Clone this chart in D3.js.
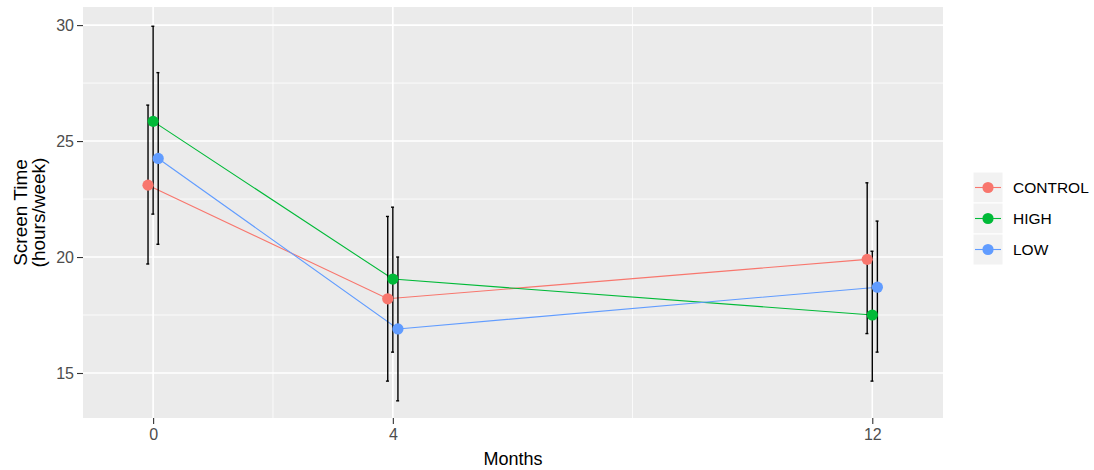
<!DOCTYPE html>
<html>
<head>
<meta charset="utf-8">
<script src="https://cdn.jsdelivr.net/npm/d3@7"></script>
<style>
  html, body { margin: 0; padding: 0; background: #fff; }
  svg { display: block; font-family: "Liberation Sans", Arial, sans-serif; }
</style>
</head>
<body>
<svg id="chart" width="1094" height="470"></svg>
<script>
// ---- data ----
const months = [0, 4, 12];
const groups = ["CONTROL", "HIGH", "LOW"];
const colors = ["#F8766D", "#00BA38", "#619CFF"];
const dodge = [-0.085, 0, 0.085];
const controlMean = [23.1, 18.2, 19.9];
const controlLow  = [19.7, 14.65, 16.7];
const controlHigh = [26.55, 21.75, 23.2];
const highMean = [25.85, 19.05, 17.5];
const highLow  = [21.85, 15.9, 14.65];
const highHigh = [29.95, 22.15, 20.25];
const lowMean = [24.25, 16.9, 18.7];
const lowLow  = [20.55, 13.8, 15.9];
const lowHigh = [27.95, 20.0, 21.55];
const yTicks = [15, 20, 25, 30];
const yMinor = [17.5, 22.5, 27.5];
const xTicks = [0, 4, 12];
const xMinor = [2, 8];

const series = [
  { name: groups[0], color: colors[0], off: dodge[0], mean: controlMean, lo: controlLow, hi: controlHigh },
  { name: groups[1], color: colors[1], off: dodge[1], mean: highMean, lo: highLow, hi: highHigh },
  { name: groups[2], color: colors[2], off: dodge[2], mean: lowMean, lo: lowLow, hi: lowHigh }
];

// ---- layout ----
const panel = { left: 83, right: 943, top: 7, bottom: 418 };
const svg = d3.select("#chart");

const x = d3.scaleLinear().domain([-1.17, 13.18]).range([panel.left, panel.right]);
const y = d3.scaleLinear().domain([13.06, 30.78]).range([panel.bottom, panel.top]);

// panel background
svg.append("rect")
  .attr("x", panel.left).attr("y", panel.top)
  .attr("width", panel.right - panel.left).attr("height", panel.bottom - panel.top)
  .attr("fill", "#EBEBEB");

const grid = svg.append("g");
// minor grid
grid.selectAll(".ymin").data(yMinor).enter().append("line")
  .attr("x1", panel.left).attr("x2", panel.right)
  .attr("y1", d => y(d)).attr("y2", d => y(d))
  .attr("stroke", "#fff").attr("stroke-width", 0.8);
grid.selectAll(".xmin").data(xMinor).enter().append("line")
  .attr("y1", panel.top).attr("y2", panel.bottom)
  .attr("x1", d => x(d)).attr("x2", d => x(d))
  .attr("stroke", "#fff").attr("stroke-width", 0.8);
// major grid
grid.selectAll(".ymaj").data(yTicks).enter().append("line")
  .attr("x1", panel.left).attr("x2", panel.right)
  .attr("y1", d => y(d)).attr("y2", d => y(d))
  .attr("stroke", "#fff").attr("stroke-width", 1.6);
grid.selectAll(".xmaj").data(xTicks).enter().append("line")
  .attr("y1", panel.top).attr("y2", panel.bottom)
  .attr("x1", d => x(d)).attr("x2", d => x(d))
  .attr("stroke", "#fff").attr("stroke-width", 1.6);

// axes
const yAxis = svg.append("g")
  .attr("transform", `translate(${panel.left},0)`)
  .call(d3.axisLeft(y).tickValues(yTicks).tickSize(6).tickPadding(3).tickFormat(d3.format("d")));
yAxis.select(".domain").remove();
yAxis.selectAll("line").attr("stroke", "#333333").attr("stroke-width", 1.1);
yAxis.selectAll("text").attr("fill", "#4D4D4D").style("font-size", "16px")
  .attr("font-family", "Liberation Sans, Arial, sans-serif");

const xAxis = svg.append("g")
  .attr("transform", `translate(0,${panel.bottom})`)
  .call(d3.axisBottom(x).tickValues(xTicks).tickSize(6).tickPadding(5).tickFormat(d3.format("d")));
xAxis.select(".domain").remove();
xAxis.selectAll("line").attr("stroke", "#333333").attr("stroke-width", 1.1);
xAxis.selectAll("text").attr("fill", "#4D4D4D").style("font-size", "16px")
  .attr("font-family", "Liberation Sans, Arial, sans-serif");

// axis titles
svg.append("text")
  .attr("x", (panel.left + panel.right) / 2).attr("y", 465)
  .attr("text-anchor", "middle").attr("fill", "#000").style("font-size", "18px")
  .text("Months");
const yt = svg.append("text")
  .attr("transform", `translate(0,${(panel.top + panel.bottom) / 2}) rotate(-90)`)
  .attr("text-anchor", "middle").attr("fill", "#000").style("font-size", "19px");
yt.append("tspan").attr("x", 0).attr("y", 27).text("Screen Time");
yt.append("tspan").attr("x", 0).attr("y", 45).text("(hours/week)");

// lines
const line = d3.line();
const marks = svg.append("g");
series.forEach(s => {
  const pts = months.map((m, i) => [x(m + s.off), y(s.mean[i])]);
  marks.append("path").attr("d", line(pts))
    .attr("fill", "none").attr("stroke", s.color).attr("stroke-width", 1.1);
});
// error bars
series.forEach(s => {
  months.forEach((m, i) => {
    const cx = x(m + s.off);
    const g = marks.append("g").attr("stroke", "#000").attr("stroke-width", 1.4);
    g.append("line").attr("x1", cx).attr("x2", cx).attr("y1", y(s.lo[i])).attr("y2", y(s.hi[i]));
    g.append("line").attr("x1", cx - 1.8).attr("x2", cx + 1.2).attr("y1", y(s.lo[i])).attr("y2", y(s.lo[i]));
    g.append("line").attr("x1", cx - 1.8).attr("x2", cx + 1.2).attr("y1", y(s.hi[i])).attr("y2", y(s.hi[i]));
  });
});
// points
series.forEach(s => {
  marks.selectAll(null).data(months).enter().append("circle")
    .attr("cx", (m) => x(m + s.off))
    .attr("cy", (m, i) => y(s.mean[i]))
    .attr("r", 5.6).attr("fill", s.color);
});

// legend
const leg = svg.append("g").attr("transform", "translate(973,172)");
const keyW = 30, keyH = 31;
series.forEach((s, i) => {
  const g = leg.append("g").attr("transform", `translate(0,${i * keyH})`);
  g.append("rect").attr("width", keyW).attr("height", keyH)
    .attr("fill", "#F2F2F2").attr("stroke", "#fff").attr("stroke-width", 1);
  g.append("line").attr("x1", 2).attr("x2", keyW - 2).attr("y1", keyH / 2).attr("y2", keyH / 2)
    .attr("stroke", s.color).attr("stroke-width", 1.1);
  g.append("circle").attr("cx", keyW / 2).attr("cy", keyH / 2).attr("r", 5.6).attr("fill", s.color);
  g.append("text").attr("x", 40).attr("y", keyH / 2 + 5.5)
    .attr("fill", "#000").style("font-size", "15.5px").text(s.name);
});
</script>
</body>
</html>
